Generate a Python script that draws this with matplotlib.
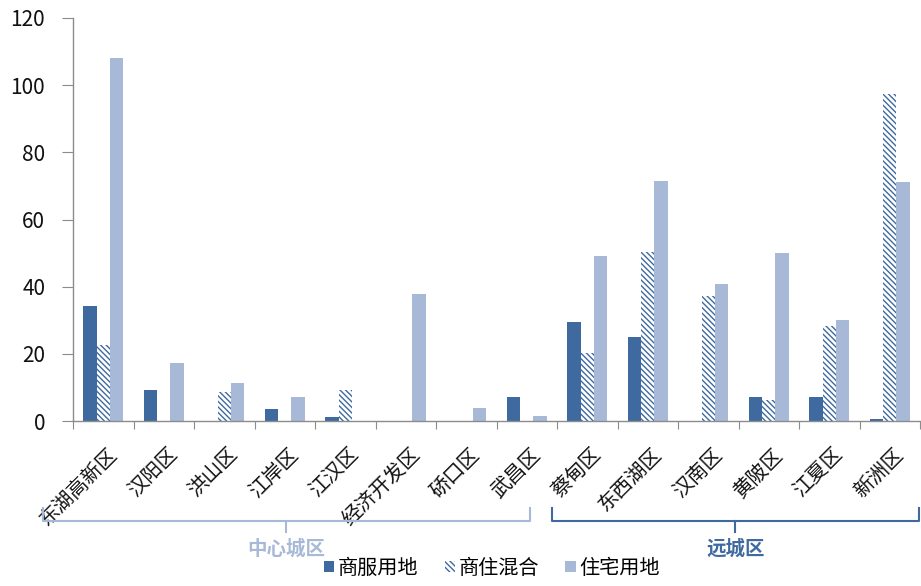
import matplotlib
matplotlib.use("Agg")
import matplotlib.pyplot as plt
import numpy as np
from matplotlib.patches import Patch
from matplotlib.transforms import ScaledTranslation, blended_transform_factory

plt.rcParams['font.family'] = ['Noto Sans CJK SC', 'DejaVu Sans']
plt.rcParams['hatch.linewidth'] = 1.0

districts = ['东湖高新区', '汉阳区', '洪山区', '江岸区', '江汉区', '经济开发区', '硚口区', '武昌区',
             '蔡甸区', '东西湖区', '汉南区', '黄陂区', '江夏区', '新洲区']
commercial = [34.2, 9.1, 0, 3.5, 1.3, 0, 0, 7.0, 29.5, 25.0, 0, 7.0, 7.0, 0.5]
mixed = [22.6, 0, 8.6, 0, 9.1, 0, 0, 0, 20.2, 50.4, 37.2, 6.2, 28.3, 97.3]
residential = [108.0, 17.3, 11.2, 7.1, 0, 37.8, 3.9, 1.5, 49.1, 71.5, 40.8, 50.0, 30.1, 71.2]
series_names = ['商服用地', '商住混合', '住宅用地']
groups = ['中心城区', '远城区']
group_sizes = [8, 6]
yticks = [0, 20, 40, 60, 80, 100, 120]

dark = '#3F6A9F'
light = '#A7B9D7'
axis_gray = '#8C8C8C'

fig = plt.figure(figsize=(9.21, 5.86), dpi=100)
ax = fig.add_axes([73/921, 1-421/586, (920-73)/921, (421-18)/586])

x = np.arange(len(districts))
w = 0.22
ax.bar(x - w, commercial, w, color=dark, linewidth=0)
ax.bar(x, mixed, w, facecolor='white', edgecolor=dark, hatch='\\\\\\\\\\\\', linewidth=0)
ax.bar(x + w, residential, w, color=light, linewidth=0)

ax.set_xlim(-0.5, len(districts) - 0.5)
ax.set_ylim(0, 120)
ax.set_yticks(yticks)
ax.tick_params(axis='y', length=8, color=axis_gray, labelsize=15, pad=12, labelcolor='#111111')

ax.set_xticks(np.arange(len(districts) + 1) - 0.5)
ax.set_xticklabels([])
ax.tick_params(axis='x', which='major', length=6, color=axis_gray)
ax.set_xticks(x, minor=True)
ax.set_xticklabels(districts, minor=True, rotation=45, ha='right', va='center',
                   rotation_mode='anchor', fontsize=14.5, color='#111111')
ax.tick_params(axis='x', which='minor', length=0, pad=22)
off = ScaledTranslation(0.11, 0, fig.dpi_scale_trans)
for lab in ax.get_xticklabels(minor=True):
    lab.set_transform(lab.get_transform() + off)

for s in ['top', 'right']:
    ax.spines[s].set_visible(False)
for s in ['left', 'bottom']:
    ax.spines[s].set_color(axis_gray)
    ax.spines[s].set_linewidth(1.0)

# group brackets
tr = blended_transform_factory(ax.transData, fig.transFigure)
y_top = 1 - 508/586
y_mid = 1 - 521/586
y_bot = 1 - 532/586
y_txt = 1 - 549/586
bracket_colors = [light, dark]
bounds = [(-1.0, 7.05), (7.42, 13.48)]
for (g, (l, r), c) in zip(groups, bounds, bracket_colors):
    m = (l + r) / 2
    ax.plot([l, l, r, r], [y_top, y_mid, y_mid, y_top], color=c, lw=1.5, transform=tr,
            clip_on=False, solid_joinstyle='round')
    ax.plot([m, m], [y_mid, y_bot], color=c, lw=1.5, transform=tr, clip_on=False)
    ax.text(m, y_txt, g, color=c, fontsize=14, fontweight='bold', ha='center', va='center',
            transform=tr)

handles = [Patch(facecolor=dark, edgecolor=dark, linewidth=0),
           Patch(facecolor='white', edgecolor=dark, hatch='\\\\\\\\\\\\', linewidth=0),
           Patch(facecolor=light, edgecolor=light, linewidth=0)]
fig.legend(handles, series_names, loc='center', bbox_to_anchor=(492/921, 1-568/586), ncol=3,
           frameon=False, fontsize=14.5, handlelength=0.5, handleheight=0.5, handletextpad=0.2,
           columnspacing=1.3)

fig.savefig('out.png', dpi=100)
